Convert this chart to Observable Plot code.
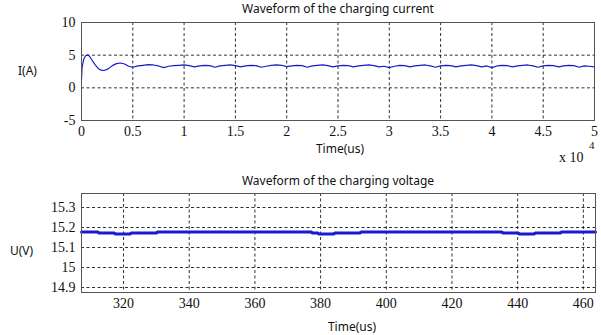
<!DOCTYPE html>
<html>
<head>
<meta charset="utf-8">
<script src="https://cdn.jsdelivr.net/npm/d3@7"></script>
<script src="https://cdn.jsdelivr.net/npm/@observablehq/plot@0.6"></script>
<style>
  html, body { margin: 0; padding: 0; background: #fff; }
  #wrap { position: relative; width: 601px; height: 335px; overflow: hidden; background: #fff; }
  .abs { position: absolute; white-space: nowrap; }
  .title { font-family: "Noto Sans", "Open Sans", sans-serif; font-size: 12px; color: #111; }
  .lab { font-family: "Noto Sans", "Open Sans", sans-serif; font-size: 12px; color: #111; }
  .serif { font-family: "Liberation Serif", "Times New Roman", Times, "DejaVu Serif", serif !important; font-size: 14px; color: #111; }
  #wrap svg text, #wrap svg g[aria-label$="tick label"] { font-family: "Liberation Serif", "Times New Roman", Times, "DejaVu Serif", serif !important; font-size: 14px !important; fill: #111; }
</style>
</head>
<body>
<div id="wrap"></div>
<script>
// ---- Data ----
// Charging current: time in units of 10^4 us, current in A
const currentTime = [
  0, 0.005, 0.02, 0.04, 0.06, 0.08, 0.10, 0.13, 0.16, 0.19, 0.22, 0.26, 0.30, 0.34, 0.38, 0.42, 0.46, 0.50,
  0.55, 0.60, 0.65, 0.70, 0.75, 0.80, 0.85, 0.90, 0.95, 1.00,
  1.05, 1.10, 1.15, 1.20, 1.25, 1.30, 1.35, 1.40, 1.45, 1.50,
  1.55, 1.60, 1.65, 1.70, 1.75, 1.80, 1.85, 1.90, 1.95, 2.00,
  2.05, 2.10, 2.15, 2.20, 2.25, 2.30, 2.35, 2.40, 2.45, 2.50,
  2.55, 2.60, 2.65, 2.70, 2.75, 2.80, 2.85, 2.90, 2.95, 3.00,
  3.05, 3.10, 3.15, 3.20, 3.25, 3.30, 3.35, 3.40, 3.45, 3.50,
  3.55, 3.60, 3.65, 3.70, 3.75, 3.80, 3.85, 3.90, 3.95, 4.00,
  4.05, 4.10, 4.15, 4.20, 4.25, 4.30, 4.35, 4.40, 4.45, 4.50,
  4.55, 4.60, 4.65, 4.70, 4.75, 4.80, 4.85, 4.90, 4.95, 5.00
];
const currentValue = [
  1.2, 3.0, 4.3, 4.9, 5.05, 4.8, 4.3, 3.6, 3.0, 2.7, 2.65, 2.9, 3.4, 3.7, 3.8, 3.65, 3.3, 3.15,
  3.35, 3.45, 3.55, 3.5, 3.35, 3.1, 3.3, 3.4, 3.45, 3.5,
  3.4, 3.2, 3.35, 3.45, 3.4, 3.15, 3.35, 3.45, 3.5, 3.4,
  3.2, 3.35, 3.45, 3.4, 3.15, 3.3, 3.45, 3.5, 3.45, 3.25,
  3.35, 3.45, 3.4, 3.15, 3.35, 3.45, 3.5, 3.4, 3.2, 3.35,
  3.45, 3.4, 3.2, 3.35, 3.45, 3.5, 3.4, 3.2, 3.3, 3.1,
  3.3, 3.45, 3.4, 3.2, 3.35, 3.45, 3.5, 3.35, 3.15, 3.35,
  3.45, 3.4, 3.2, 3.35, 3.45, 3.5, 3.4, 3.2, 3.35, 3.1,
  3.35, 3.45, 3.4, 3.2, 3.35, 3.45, 3.5, 3.35, 3.15, 3.35,
  3.45, 3.4, 3.2, 3.35, 3.45, 3.4, 3.15, 3.35, 3.3, 3.2
];
const currentXTicks = [0, 0.5, 1, 1.5, 2, 2.5, 3, 3.5, 4, 4.5, 5];
const currentXTickLabels = ["0", "0.5", "1", "1.5", "2", "2.5", "3", "3.5", "4", "4.5", "5"];
const currentYTicks = [-5, 0, 5, 10];
const currentYTickLabels = ["-5", "0", "5", "10"];

// Charging voltage: time in us, voltage in V (step-like)
const voltageTime = [307.2, 312, 312.5, 317, 317.5, 322, 322.5, 330, 330.5, 377, 377.5, 379, 379.5, 384, 384.5, 392, 392.5, 435, 435.5, 440, 440.5, 445, 445.5, 453, 453.5, 463.7];
const voltageValue = [15.178, 15.178, 15.173, 15.173, 15.168, 15.168, 15.173, 15.173, 15.178, 15.178, 15.173, 15.173, 15.168, 15.168, 15.173, 15.173, 15.178, 15.178, 15.173, 15.173, 15.168, 15.168, 15.173, 15.173, 15.178, 15.178];
const voltageXTicks = [320, 340, 360, 380, 400, 420, 440, 460];
const voltageYTicks = [14.9, 15, 15.1, 15.2, 15.3];
const voltageYTickLabels = ["14.9", "15", "15.1", "15.2", "15.3"];

const titles = ["Waveform of the charging current", "Waveform of the charging voltage"];
const yLabels = ["I(A)", "U(V)"];
const xLabel = "Time(us)";

// ---- Build ----
const wrap = document.getElementById("wrap");
function addText(cls, text, left, top, extra) {
  const d = document.createElement("div");
  d.className = "abs " + cls;
  d.textContent = text;
  d.style.left = left + "px";
  d.style.top = top + "px";
  if (extra) Object.assign(d.style, extra);
  wrap.appendChild(d);
  return d;
}

const currentData = currentTime.map((t, i) => ({t, v: currentValue[i]}));
const voltageData = voltageTime.map((t, i) => ({t, v: voltageValue[i]}));

const gridStyle = {stroke: "#000", strokeOpacity: 0.9, strokeDasharray: "3,2.5", strokeWidth: 0.9};

const p1 = Plot.plot({
  width: 601, height: 170,
  marginLeft: 81, marginRight: 7, marginTop: 22, marginBottom: 50,
  x: {domain: [0, 5], ticks: currentXTicks, tickFormat: (d) => currentXTickLabels[currentXTicks.indexOf(d)], tickSize: 0, tickPadding: 6, label: null},
  y: {domain: [-5, 10], ticks: currentYTicks, tickFormat: (d) => currentYTickLabels[currentYTicks.indexOf(d)], tickSize: 0, tickPadding: 6, label: null},
  marks: [
    Plot.ruleX(currentXTicks.slice(1, -1), {...gridStyle}),
    Plot.ruleY(currentYTicks.slice(1, -1), {...gridStyle}),
    Plot.line(currentData, {x: "t", y: "v", stroke: "#1a1ac8", strokeWidth: 1.2}),
    Plot.frame({stroke: "#555", strokeWidth: 1})
  ]
});
p1.style.position = "absolute"; p1.style.left = "0px"; p1.style.top = "0px"; p1.style.background = "transparent";
wrap.appendChild(p1);

const p2 = Plot.plot({
  width: 601, height: 165,
  marginLeft: 81, marginRight: 6, marginTop: 23, marginBottom: 43,
  x: {domain: [307.2, 463.7], ticks: voltageXTicks, tickSize: 0, tickPadding: 6, label: null},
  y: {domain: [14.875, 15.37], ticks: voltageYTicks, tickFormat: (d) => voltageYTickLabels[voltageYTicks.indexOf(d)], tickSize: 0, tickPadding: 6, label: null},
  marks: [
    Plot.ruleX(voltageXTicks, {...gridStyle}),
    Plot.ruleY(voltageYTicks, {...gridStyle}),
    Plot.line(voltageData, {x: "t", y: "v", stroke: "#1a1ad0", strokeWidth: 3}),
    Plot.frame({stroke: "#555", strokeWidth: 1})
  ]
});
p2.style.position = "absolute"; p2.style.left = "0px"; p2.style.top = "170px"; p2.style.background = "transparent";
wrap.appendChild(p2);

// Titles and labels
addText("title", titles[0], 338, 0, {transform: "translateX(-50%)"});
addText("title", titles[1], 338, 172, {transform: "translateX(-50%)"});
addText("lab", yLabels[0], 18, 62);
addText("lab", yLabels[1], 10, 242);
addText("lab", xLabel, 340, 140, {transform: "translateX(-50%)"});
addText("lab", xLabel, 352, 318, {transform: "translateX(-50%)"});
addText("serif", "x 10", 559, 150);
addText("serif", "4", 589, 139, {fontSize: "11px"});
</script>
</body>
</html>
